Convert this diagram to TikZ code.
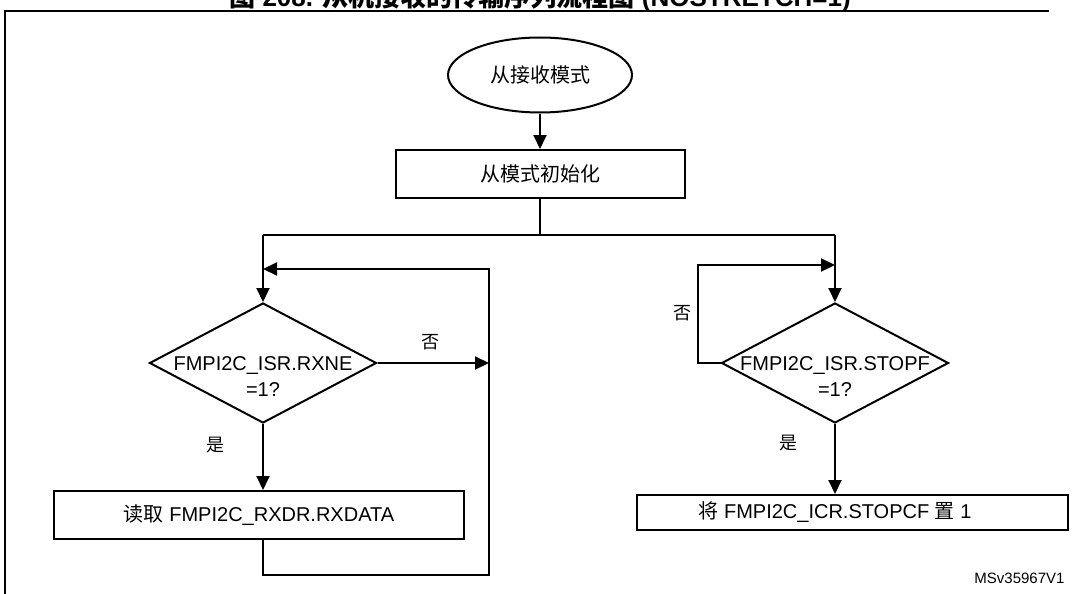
\documentclass[tikz,border=0pt]{standalone}
\usepackage{fontspec}
\setmainfont{Liberation Sans}
\newfontfamily\cjk{Noto Sans CJK SC}
\usetikzlibrary{arrows.meta, positioning, shapes.geometric, calc}

\begin{document}
\begin{tikzpicture}[
  x=1pt, y=1pt,
  node distance=1cm,
  startnode/.style={ellipse, draw, line width=2pt, minimum width=184pt, minimum height=75pt, inner sep=0pt, font=\fontsize{20}{24}\selectfont\cjk},
  box/.style={rectangle, draw, line width=2pt, minimum height=48pt, inner sep=0pt, align=center, font=\fontsize{20}{24}\selectfont},
  decision/.style={diamond, draw, line width=2pt, minimum width=227pt, minimum height=120pt, inner sep=0pt, font=\fontsize{20}{26}\selectfont},
  conn/.style={line width=2pt},
  arrow/.style={-{Triangle[length=14pt, width=13pt]}, line width=2pt},
  tag/.style={font=\fontsize{18}{20}\selectfont\cjk}
]
  \clip (0,0) rectangle (1074,-594);

  % Title and frame
  \node[anchor=base, font=\fontsize{26}{28}\selectfont\bfseries] (title) at (540,-7) {{\cjk 图} 208. {\cjk 从机接收的传输序列流程图} (NOSTRETCH=1)};
  \draw[line width=2pt] (1049,-11) -- (5,-11) -- (5,-594);

  % Start
  \node[startnode] (start) at (540,-75) {从接收模式};
  \node[box, minimum width=289pt, below=35.5pt of start] (init) {{\cjk 从模式初始化}};
  \coordinate (split) at ($(init.south)+(0,-36)$);

  % Decisions
  \node[decision] (rxne) at (263,-363) {\raisebox{-7pt}[0pt][0pt]{\makebox[0pt]{\begin{tabular}[t]{@{}c@{}}FMPI2C\_ISR.RXNE\\=1?\end{tabular}}}};
  \node[decision] (stopf) at (835,-363) {\raisebox{-7pt}[0pt][0pt]{\makebox[0pt]{\begin{tabular}[t]{@{}c@{}}FMPI2C\_ISR.STOPF\\=1?\end{tabular}}}};

  % Actions
  \node[box, minimum width=410pt, below=66pt of rxne, xshift=-4pt] (readdata) {{\cjk 读取} FMPI2C\_RXDR.RXDATA};
  \node[box, minimum width=431pt, minimum height=35pt, below=70pt of stopf, xshift=17pt] (clearstop) {\hspace*{-34pt}{\cjk 将} FMPI2C\_ICR.STOPCF {\cjk 置} 1};

  % Loop corners
  \coordinate (rxloop) at (489,-269);
  \coordinate (stloop) at (698,-265);

  % Arrows
  \draw[arrow] (start) -- (init);
  \draw[conn] (init.south) -- (split);
  \draw[conn] (rxne.north |- split) -- (stopf.north |- split);
  \draw[arrow] (rxne.north |- split) -- (rxne.north);
  \draw[arrow] (stopf.north |- split) -- (stopf.north);
  \draw[arrow] (rxne.east) -- (rxne.east -| rxloop);
  \draw[arrow] (rxne.south) -- (rxne.south |- readdata.north);
  \draw[arrow] (rxne.south |- readdata.south) -- ++(0,-35) -| (rxloop) -- (rxne.north |- rxloop);
  \draw[arrow] (stopf.west) -| (stloop) -- (stopf.north |- stloop);
  \draw[arrow] (stopf.south) -- (stopf.south |- clearstop.north);

  % Labels
  \node[tag] (rxno) at (430,-342) {否};
  \node[tag] (rxyes) at (215,-445) {是};
  \node[tag] (stno) at (682,-313) {否};
  \node[tag] (styes) at (788,-443) {是};
  \node[anchor=east, font=\fontsize{15}{18}\selectfont] (docid) at (1068,-578) {MSv35967V1};
\end{tikzpicture}
\end{document}
